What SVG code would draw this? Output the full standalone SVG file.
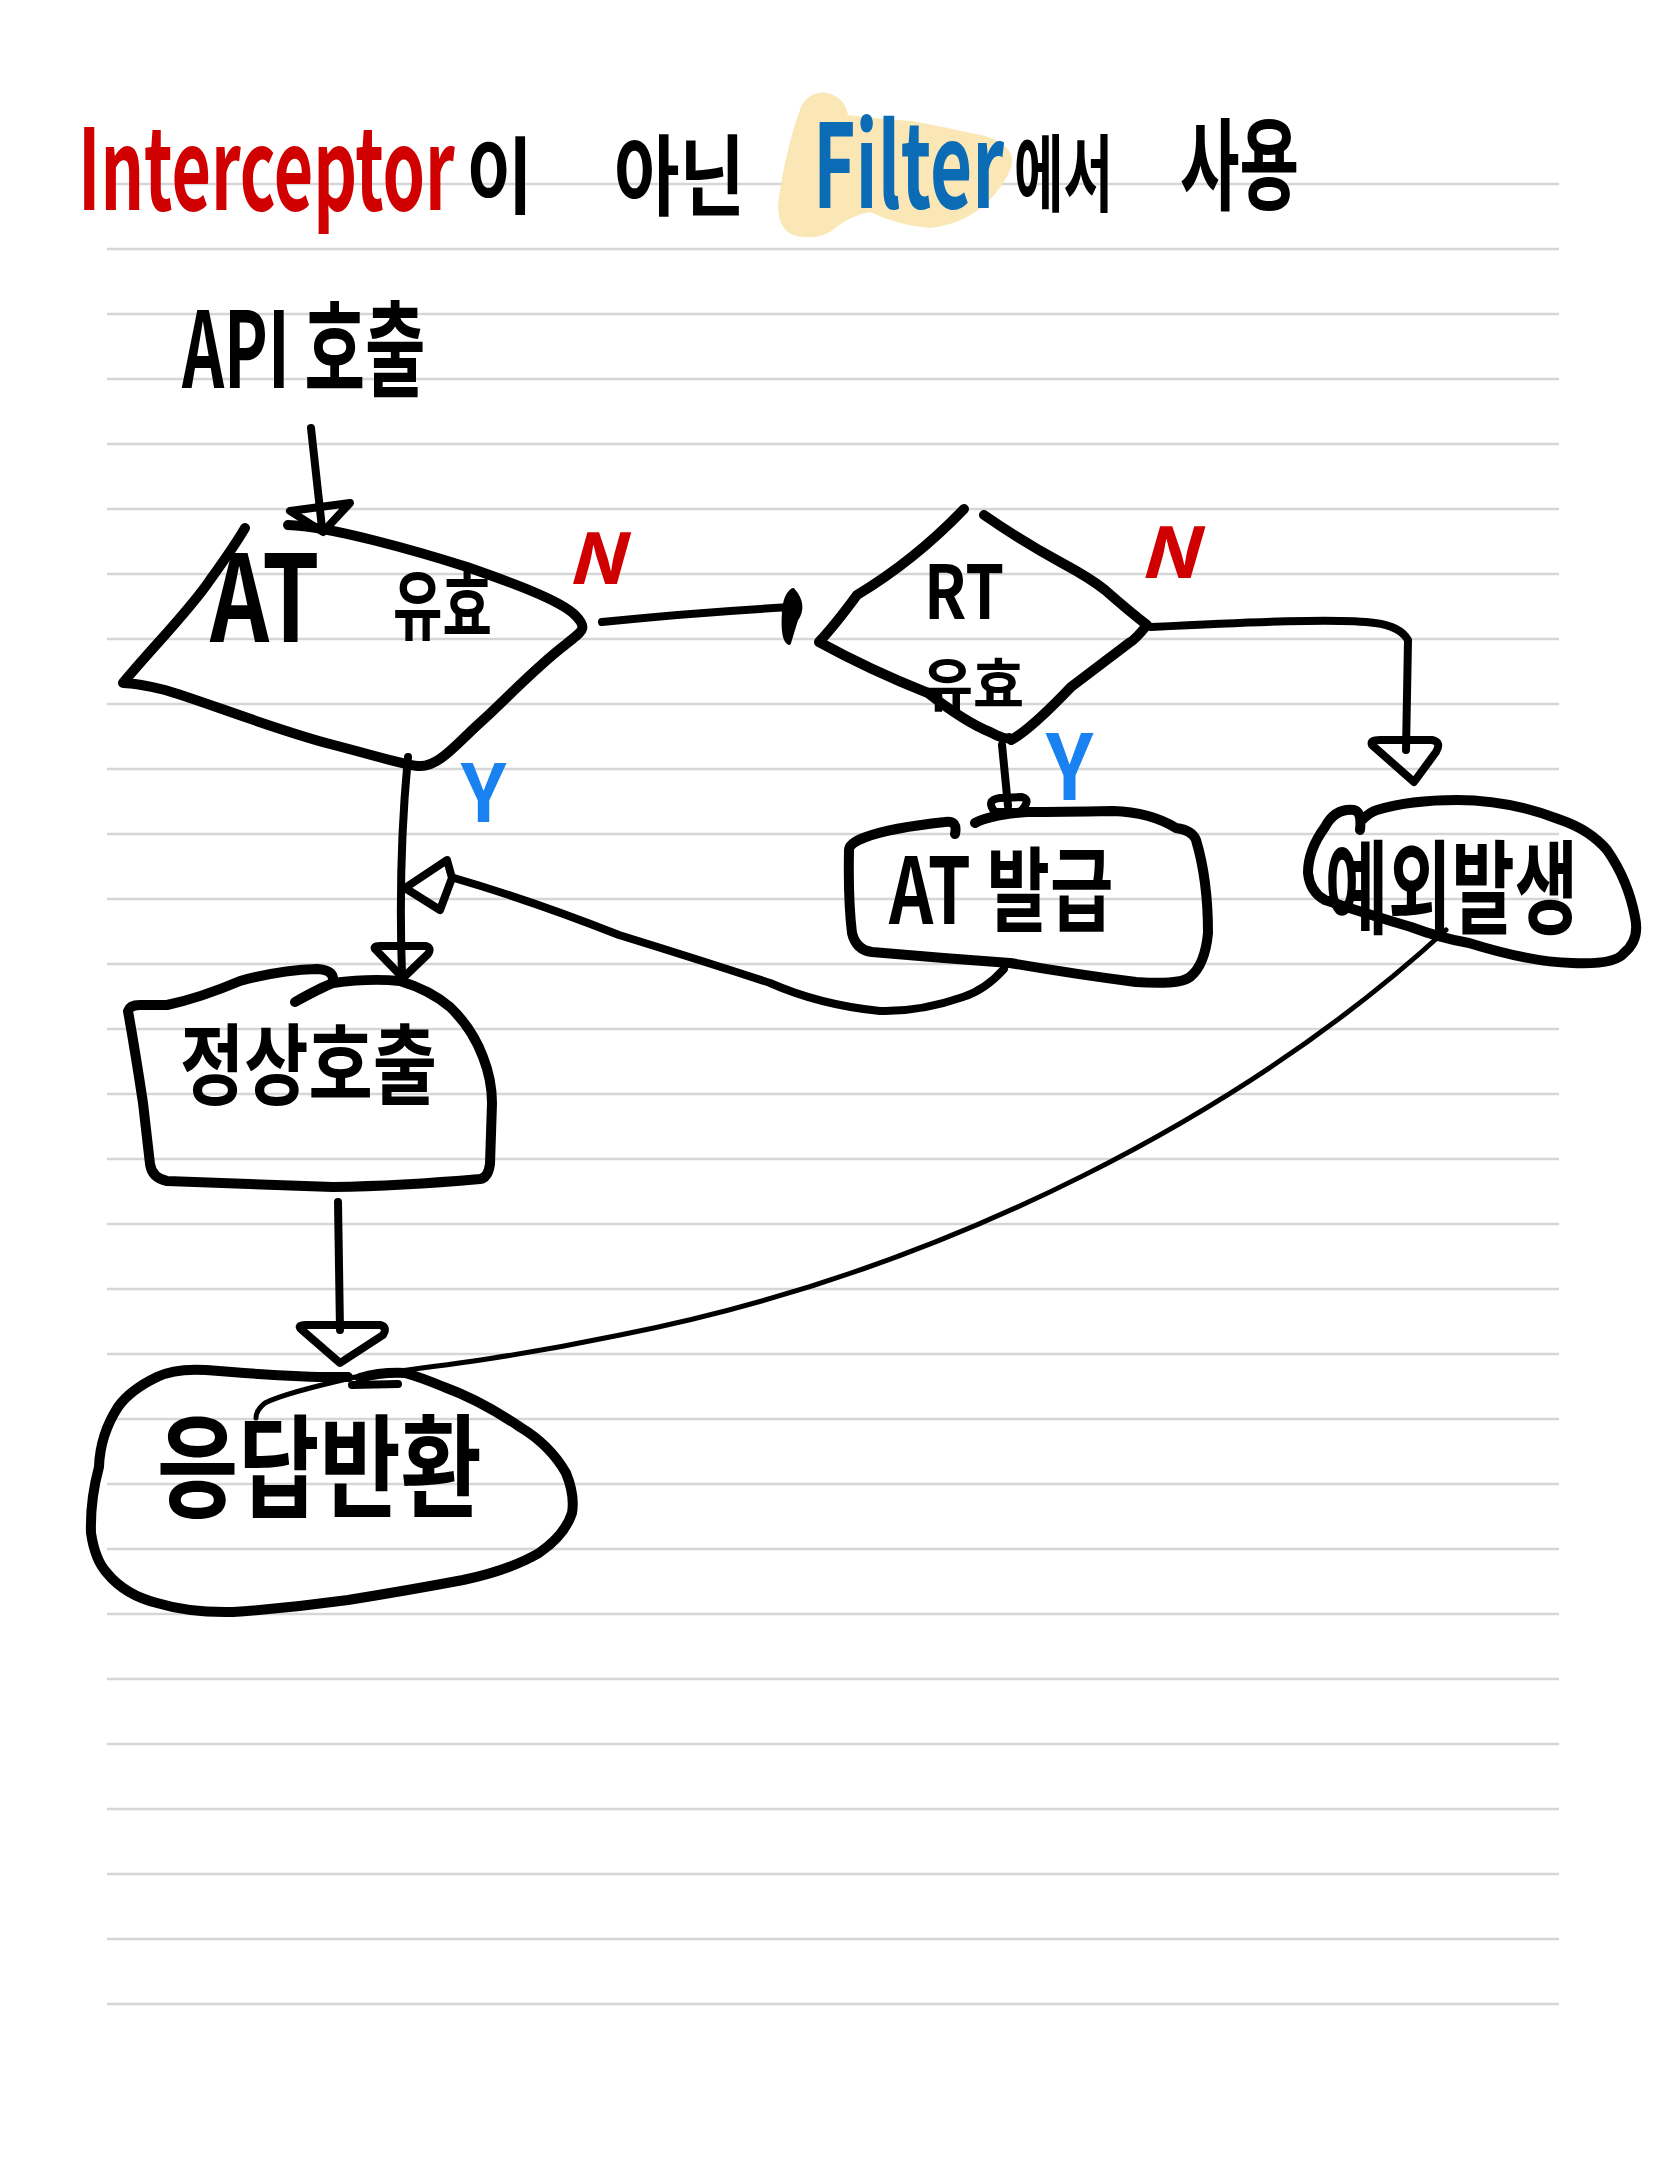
<svg xmlns="http://www.w3.org/2000/svg" width="1668" height="2157" viewBox="0 0 1668 2157">
<style>
.ln{stroke:#d6d6d6;stroke-width:2.5;fill:none}
.sh{stroke:#000;stroke-width:10;fill:none;stroke-linecap:round;stroke-linejoin:round}
.cn{stroke:#000;stroke-width:8;fill:none;stroke-linecap:round;stroke-linejoin:round}
.thin{stroke:#000;stroke-width:5;fill:none;stroke-linecap:round;stroke-linejoin:round}
.t{font-family:'Noto Sans CJK KR','Noto Sans',sans-serif;font-weight:700;fill:#000}
.red{fill:#d00000}
.blue{fill:#1a82f0}
</style>
<rect width="1668" height="2157" fill="#fff"/>
<g id="paper-lines">
<path class="ln" d="M107,184H1559M107,249H1559M107,314H1559M107,379H1559M107,444H1559M107,509H1559M107,574H1559M107,639H1559M107,704H1559M107,769H1559M107,834H1559M107,899H1559M107,964H1559M107,1029H1559M107,1094H1559M107,1159H1559M107,1224H1559M107,1289H1559M107,1354H1559M107,1419H1559M107,1484H1559M107,1549H1559M107,1614H1559M107,1679H1559M107,1744H1559M107,1809H1559M107,1874H1559M107,1939H1559M107,2004H1559"/>
</g>
<g id="title">
<path d="M797,236 Q778,232 778,205 Q785,150 801,107 Q810,90 828,93 Q845,98 848,115 Q870,118 912,121 Q950,128 985,136 Q1015,145 1012,165 Q1005,185 985,205 Q960,225 930,228 Q900,226 870,212 Q850,215 830,232 Q815,240 797,236 Z" fill="#fbe7b6"/>
<text class="t red" transform="translate(78,210) scale(0.6,1)" font-size="112" textLength="628" lengthAdjust="spacingAndGlyphs">Interceptor</text>
<text class="t" transform="translate(466,207) scale(0.8,1)" font-size="84" textLength="84" lengthAdjust="spacingAndGlyphs">이</text>
<text class="t" transform="translate(614,208) scale(0.744,1)" font-size="88" textLength="176" lengthAdjust="spacingAndGlyphs">아닌</text>
<text class="t" transform="translate(813,208) scale(0.675,1)" font-size="116" textLength="283" lengthAdjust="spacingAndGlyphs" style="fill:#0b6cb5">Filter</text>
<text class="t" transform="translate(1014,205) scale(0.59,1)" font-size="84" textLength="168" lengthAdjust="spacingAndGlyphs">에서</text>
<text class="t" transform="translate(1180,202) scale(0.595,1)" font-size="100" textLength="200" lengthAdjust="spacingAndGlyphs">사용</text>
</g>
<g id="node-api">
<text class="t" transform="translate(182,388) scale(0.61,1)" font-size="105" textLength="399" lengthAdjust="spacingAndGlyphs">API 호출</text>
</g>
<g id="node-at-valid">
<path class="sh" d="M288,525 C330,526 420,552 467,567 C510,582 560,600 575,615 C590,630 580,632 565,645 C535,668 505,700 483,720 C455,745 438,768 418,766 C405,765 380,757 330,744 C270,728 200,700 165,690 C140,684 128,683 123,683 C150,650 190,610 210,580 C228,555 238,540 245,528"/>
<text class="t" transform="translate(210,642) scale(0.75,1)" font-size="120" textLength="146" lengthAdjust="spacingAndGlyphs">AT</text>
<text class="t" transform="translate(393,634) scale(0.65,1)" font-size="76" textLength="152" lengthAdjust="spacingAndGlyphs">유효</text>
</g>
<g id="node-rt-valid">
<path class="sh" d="M964,509 Q915,560 857,595 Q835,625 819,642 Q870,670 928,693 Q965,722 990,732 Q1005,740 1009,738"/>
<path class="sh" d="M984,515 Q1020,540 1062,563 Q1090,578 1105,590 Q1130,612 1147,625 Q1135,640 1129,643 Q1100,665 1071,687 Q1030,730 1011,740"/>
<text class="t" transform="translate(924,619) scale(0.91,1)" font-size="74" textLength="88" lengthAdjust="spacingAndGlyphs">RT</text>
<text class="t" transform="translate(922,706) scale(0.88,1)" font-size="58" textLength="116" lengthAdjust="spacingAndGlyphs">유효</text>
</g>
<g id="node-at-issue">
<path class="sh" d="M955,834 Q958,820 945,822 Q890,828 866,837 Q849,843 849,850 Q848,900 852,933 Q856,950 872,952 Q940,958 1010,963 Q1080,975 1136,982 Q1180,985 1190,977 Q1205,965 1208,933 Q1208,880 1196,840 Q1192,830 1176,828 Q1150,812 1113,811 Q1060,812 1027,812 Q990,815 975,823"/>
<text class="t" transform="translate(889,924) scale(0.71,1)" font-size="92" textLength="316" lengthAdjust="spacingAndGlyphs">AT 발급</text>
</g>
<g id="node-exception">
<path class="sh" d="M1360,830 Q1362,812 1354,810 Q1335,808 1325,827 Q1308,850 1308,873 Q1310,892 1325,900 Q1370,915 1411,927 Q1440,938 1469,943 Q1530,962 1572,963 Q1615,965 1624,953 Q1640,940 1635,917 Q1628,880 1607,850 Q1590,830 1561,820 Q1510,800 1457,800 Q1410,800 1377,810 Q1370,812 1362,820"/>
<text class="t" transform="translate(1325,926) scale(0.62,1)" font-size="102" textLength="408" lengthAdjust="spacingAndGlyphs">예외발생</text>
</g>
<g id="node-normal">
<path class="sh" d="M295,1002 Q320,988 333,983 Q370,978 400,981 Q430,990 450,1007 Q472,1028 483,1057 Q492,1080 492,1103 L490,1164 Q488,1178 480,1179 Q400,1186 333,1187 L167,1181 Q152,1178 150,1164 Q146,1130 143,1103 Q135,1050 128,1011 Q130,1005 140,1005 L167,1005 Q200,998 240,981 Q280,970 317,969 Q333,970 333,979"/>
<text class="t" transform="translate(180,1097) scale(0.73,1)" font-size="88" textLength="352" lengthAdjust="spacingAndGlyphs">정상호출</text>
</g>
<g id="node-response">
<path class="sh" d="M348,1377 Q300,1378 206,1370 Q175,1368 157,1377 Q130,1390 118,1407 Q100,1435 99,1467 Q90,1500 91,1533 Q95,1560 107,1573 Q125,1595 157,1603 Q190,1613 233,1612 Q290,1608 348,1600 Q410,1590 463,1580 Q510,1570 539,1553 Q565,1535 572,1513 Q575,1495 566,1473 Q550,1445 520,1427 Q480,1400 444,1387 Q420,1377 405,1373 Q380,1372 360,1378"/>
<text class="t" transform="translate(157,1509) scale(0.725,1)" font-size="112" textLength="448" lengthAdjust="spacingAndGlyphs">응답반환</text>
</g>
<g id="connectors">
<path class="cn" d="M311,428 L322,528"/>
<path class="cn" d="M290,511 L350,503 L323,532 Z"/>
<path class="cn" d="M602,622 Q700,612 793,607"/>
<path d="M793,590 Q806,605 796,620 L789,643 Q782,640 784,612 Q785,595 793,590 Z" fill="#000" stroke="#000" stroke-width="4" stroke-linejoin="round"/>
<path class="cn" d="M1151,627 C1250,622 1340,618 1375,623 Q1400,626 1408,640 L1406,750"/>
<path class="cn" d="M1372,745 Q1370,740 1380,740 L1432,740 Q1442,742 1436,752 L1414,782 Z"/>
<path class="cn" d="M1002,745 L1008,806"/>
<path class="cn" d="M995,812 Q985,800 1000,798 L1022,797 Q1032,800 1020,812 Z"/>
<path class="cn" d="M408,757 Q398,860 402,975"/>
<path class="cn" d="M376,950 Q372,946 380,946 L426,946 Q432,948 428,954 L403,978 Z"/>
<path class="cn" d="M1004,969 Q985,990 963,997 Q920,1012 880,1011 Q820,1005 770,983 Q700,960 619,935 Q530,900 454,878"/>
<path class="cn" d="M447,860 L405,888 L440,910 L452,878 Z"/>
<path class="cn" d="M338,1202 L340,1330"/>
<path class="cn" d="M302,1330 Q296,1325 306,1325 L380,1325 Q388,1327 383,1335 L340,1363 Z"/>
<path class="cn" d="M352,1385 L398,1384"/>
<path class="thin" d="M1446,930 C1250,1110 950,1270 620,1335 C500,1360 420,1368 360,1376 C320,1385 280,1395 265,1403 Q256,1410 256,1418"/>
<text class="t red" x="566" y="584" font-size="70" font-style="italic" textLength="58" lengthAdjust="spacingAndGlyphs">N</text>
<text class="t red" x="1138" y="578" font-size="70" font-style="italic" textLength="60" lengthAdjust="spacingAndGlyphs">N</text>
<text class="t blue" x="461" y="822" font-size="80" textLength="45" lengthAdjust="spacingAndGlyphs">Y</text>
<text class="t blue" x="1046" y="800" font-size="90" textLength="47" lengthAdjust="spacingAndGlyphs">Y</text>
</g>
</svg>
